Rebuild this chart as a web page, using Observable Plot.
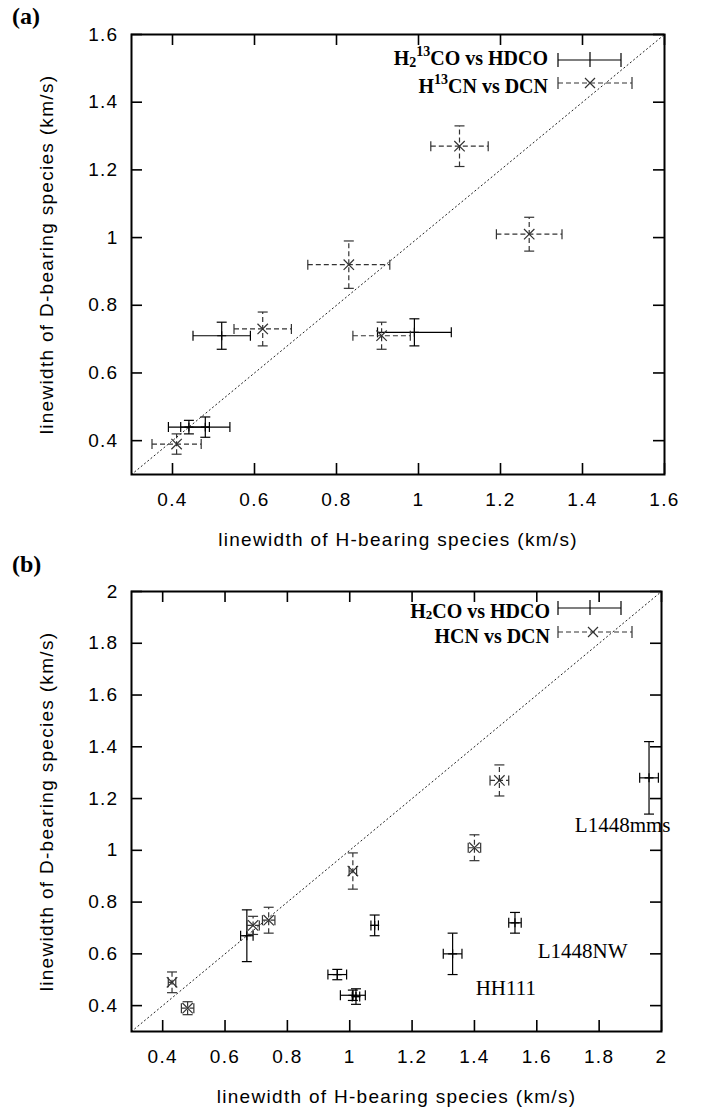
<!DOCTYPE html>
<html><head><meta charset="utf-8">
<script src="https://cdn.jsdelivr.net/npm/d3@7"></script>
<script src="https://cdn.jsdelivr.net/npm/@observablehq/plot@0.6"></script>
<style>
body{margin:0;background:#fff;}
#wrap{position:relative;width:702px;height:1113px;overflow:hidden;background:#fff;}
#pa{position:absolute;left:0;top:0;}
#pb{position:absolute;left:0;top:557px;}
#ov{position:absolute;left:0;top:0;pointer-events:none;}
g[font-family*="Serif"], g[font-family*="Serif"] text{letter-spacing:0;}
</style></head><body>
<div id="wrap"><div id="pa"></div><div id="pb"></div>
<svg id="ov" width="702" height="1113" font-family="Liberation Serif" font-weight="bold">
  <text x="12" y="24" font-size="24">(a)</text>
  <text x="12" y="572" font-size="24">(b)</text>
  <!-- legend (a) -->
  <text x="548" y="65" text-anchor="end" font-size="20">H<tspan font-size="14" dy="2">2</tspan><tspan font-size="14" dy="-11">13</tspan><tspan dy="9">CO vs HDCO</tspan></text>
  <g stroke="#000" stroke-width="1.2" fill="none">
    <line x1="558" y1="60" x2="621" y2="60"/>
    <line x1="558" y1="53" x2="558" y2="67"/>
    <line x1="621" y1="53" x2="621" y2="67"/>
    <line x1="590" y1="52" x2="590" y2="67"/>
  </g>
  <text x="548" y="93" text-anchor="end" font-size="20">H<tspan font-size="14" dy="-9">13</tspan><tspan dy="9">CN vs DCN</tspan></text>
  <g stroke="#333" stroke-width="1.2" fill="none">
    <line x1="558" y1="83" x2="632" y2="83" stroke-dasharray="5,3"/>
    <line x1="558" y1="77" x2="558" y2="89"/>
    <line x1="632" y1="77" x2="632" y2="89"/>
    <path d="M585,78L595,88M585,88L595,78"/>
  </g>
  <!-- legend (b) -->
  <text x="550" y="618" text-anchor="end" font-size="20">H<tspan font-size="13" dy="1">2</tspan><tspan dy="-1">CO vs HDCO</tspan></text>
  <g stroke="#000" stroke-width="1.2" fill="none">
    <line x1="558" y1="608" x2="621" y2="608"/>
    <line x1="558" y1="601" x2="558" y2="615"/>
    <line x1="621" y1="601" x2="621" y2="615"/>
    <line x1="590" y1="600" x2="590" y2="615"/>
  </g>
  <text x="550" y="643" text-anchor="end" font-size="20">HCN vs DCN</text>
  <g stroke="#333" stroke-width="1.2" fill="none">
    <line x1="558" y1="632" x2="632" y2="632" stroke-dasharray="5,3"/>
    <line x1="558" y1="626" x2="558" y2="638"/>
    <line x1="632" y1="626" x2="632" y2="638"/>
    <path d="M588,627L598,637M588,637L598,627"/>
  </g>
</svg>
</div>
<script>
// ---------- data ----------
const domainA = [0.3, 1.6];
const ticksA = [0.4, 0.6, 0.8, 1, 1.2, 1.4, 1.6];
const domainB = [0.3, 2];
const ticksB = [0.4, 0.6, 0.8, 1, 1.2, 1.4, 1.6, 1.8, 2];

const xLabel = "linewidth of H-bearing species (km/s)";
const yLabel = "linewidth of D-bearing species (km/s)";

// Panel (a): H2^13CO vs HDCO
const aCoX    = [0.52, 0.44, 0.48, 0.99];
const aCoY    = [0.71, 0.44, 0.44, 0.72];
const aCoXerr = [0.07, 0.05, 0.06, 0.09];
const aCoYerr = [0.04, 0.02, 0.03, 0.04];
// Panel (a): H^13CN vs DCN
const aCnX    = [0.41, 0.62, 0.91, 0.83, 1.10, 1.27];
const aCnY    = [0.39, 0.73, 0.71, 0.92, 1.27, 1.01];
const aCnXerr = [0.06, 0.07, 0.07, 0.10, 0.07, 0.08];
const aCnYerr = [0.03, 0.05, 0.04, 0.07, 0.06, 0.05];

// Panel (b): H2CO vs HDCO
const bCoX    = [0.67, 0.96, 1.01, 1.02, 1.08, 1.33, 1.53, 1.96];
const bCoY    = [0.67, 0.52, 0.44, 0.435, 0.71, 0.60, 0.72, 1.28];
const bCoXerr = [0.02, 0.03, 0.04, 0.012, 0.012, 0.03, 0.02, 0.03];
const bCoYerr = [0.10, 0.02, 0.02, 0.03, 0.04, 0.08, 0.04, 0.14];
// Panel (b): HCN vs DCN
const bCnX    = [0.43, 0.48, 0.69, 0.74, 1.01, 1.40, 1.48];
const bCnY    = [0.49, 0.39, 0.71, 0.73, 0.92, 1.01, 1.27];
const bCnXerr = [0.012, 0.02, 0.02, 0.02, 0.012, 0.02, 0.03];
const bCnYerr = [0.04, 0.025, 0.035, 0.05, 0.07, 0.05, 0.06];

// Panel (b) source annotations
const annText = ["L1448mms", "L1448NW", "HH111"];
const annX    = [1.722, 1.603, 1.404];
const annY    = [1.097, 0.61, 0.466];

// ---------- helpers ----------
const rows = (x, y, xe, ye) => x.map((v, i) => ({x: v, y: y[i], xe: xe[i], ye: ye[i]}));
const vbar = {draw(ctx, size) { const r = Math.sqrt(size / Math.PI); ctx.moveTo(0, -r); ctx.lineTo(0, r); }};
const hbar = {draw(ctx, size) { const r = Math.sqrt(size / Math.PI); ctx.moveTo(-r, 0); ctx.lineTo(r, 0); }};

function errMarks(data, {stroke, dash, cap, marker, mr}) {
  const c = {stroke, strokeWidth: 1.2};
  return [
    Plot.link(data, {x1: d => d.x - d.xe, x2: d => d.x + d.xe, y1: "y", y2: "y", ...c, strokeDasharray: dash}),
    Plot.link(data, {x1: "x", x2: "x", y1: d => d.y - d.ye, y2: d => d.y + d.ye, ...c, strokeDasharray: dash}),
    Plot.dot(data, {x: d => d.x - d.xe, y: "y", symbol: vbar, r: cap, fill: "none", ...c}),
    Plot.dot(data, {x: d => d.x + d.xe, y: "y", symbol: vbar, r: cap, fill: "none", ...c}),
    Plot.dot(data, {x: "x", y: d => d.y - d.ye, symbol: hbar, r: cap, fill: "none", ...c}),
    Plot.dot(data, {x: "x", y: d => d.y + d.ye, symbol: hbar, r: cap, fill: "none", ...c}),
    Plot.dot(data, {x: "x", y: "y", symbol: marker, r: mr, fill: "none", ...c})
  ];
}

function panel({domain, ticks, height, mL, mR, mT, mB, solid, dashed, extra = []}) {
  const width = 702;
  const fh = height - mT - mB, fw = width - mL - mR, tl = 11;
  return Plot.plot({
    width, height, marginLeft: mL, marginRight: mR, marginTop: mT, marginBottom: mB,
    x: {domain}, y: {domain},
    style: {fontFamily: "'Liberation Sans', Arial, sans-serif", fontSize: "19px", letterSpacing: "1.3px", background: "#fff", color: "#000", overflow: "visible"},
    marks: [
      Plot.line(domain, {x: d => d, y: d => d, stroke: "#222", strokeWidth: 1, strokeDasharray: "1.2,3"}),
      ...errMarks(solid, {stroke: "#000", dash: null, cap: 5, marker: "plus", mr: 3}),
      ...errMarks(dashed, {stroke: "#333", dash: "5,3", cap: 5, marker: "times", mr: 4.8}),
      Plot.tickX(ticks, {x: d => d, insetTop: fh - tl, strokeWidth: 1.6}),
      Plot.tickX(ticks, {x: d => d, insetBottom: fh - tl, strokeWidth: 1.6}),
      Plot.tickY(ticks, {y: d => d, insetRight: fw - tl, strokeWidth: 1.6}),
      Plot.tickY(ticks, {y: d => d, insetLeft: fw - tl, strokeWidth: 1.6}),
      Plot.frame({stroke: "#000", strokeWidth: 2}),
      Plot.axisX(ticks, {tickSize: 0, tickPadding: 18, tickFormat: d => String(d), label: null}),
      Plot.axisY(ticks, {tickSize: 0, tickPadding: 13, tickFormat: d => String(d), label: null}),
      Plot.text([xLabel], {text: d => d, frameAnchor: "bottom", dy: 65, lineAnchor: "middle", textAnchor: "middle"}),
      Plot.text([yLabel], {text: d => d, frameAnchor: "left", dx: -85, rotate: -90, lineAnchor: "middle", textAnchor: "middle"}),
      ...extra
    ]
  });
}

const figA = panel({
  domain: domainA, ticks: ticksA, height: 557, mL: 131, mR: 38, mT: 34, mB: 83,
  solid: rows(aCoX, aCoY, aCoXerr, aCoYerr),
  dashed: rows(aCnX, aCnY, aCnXerr, aCnYerr)
});
document.getElementById("pa").appendChild(figA);

const ann = annText.map((t, i) => ({t, x: annX[i], y: annY[i]}));
const figB = panel({
  domain: domainB, ticks: ticksB, height: 556, mL: 131, mR: 41, mT: 34, mB: 82,
  solid: rows(bCoX, bCoY, bCoXerr, bCoYerr),
  dashed: rows(bCnX, bCnY, bCnXerr, bCnYerr),
  extra: [Plot.text(ann, {x: "x", y: "y", text: "t", textAnchor: "start", lineAnchor: "middle",
    fontFamily: "Liberation Serif", fontSize: 21, fill: "#000"})]
});
document.getElementById("pb").appendChild(figB);
</script>
</body></html>
